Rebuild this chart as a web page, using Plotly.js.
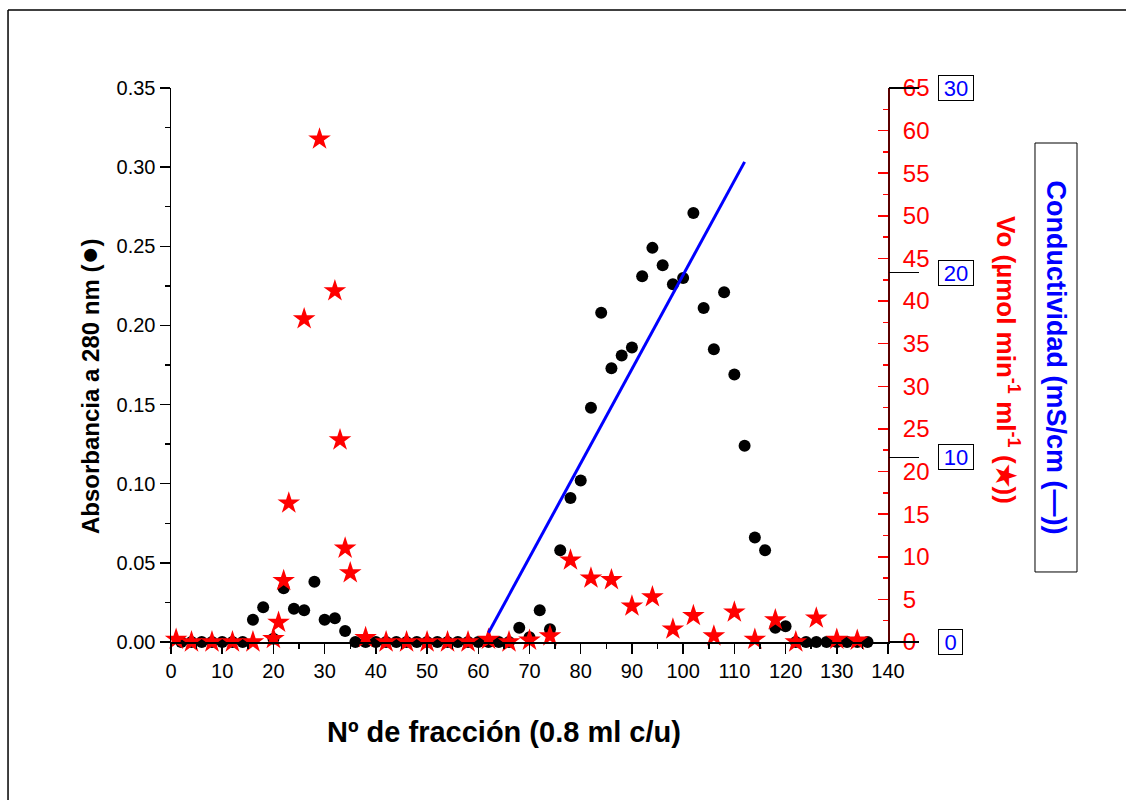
<!DOCTYPE html>
<html>
<head>
<meta charset="utf-8">
<script src="https://cdn.plot.ly/plotly-3.0.1.min.js"></script>
<style>html,body{margin:0;padding:0;background:#fff;}#chart{width:1126px;height:800px;}</style>
</head>
<body>
<div id="chart"></div>
<script>
// Absorbance at 280 nm (black dots)
const fracAbs = [2,4,6,8,10,12,14,16,18,20,22,24,26,28,30,32,34,36,38,40,42,44,46,48,50,52,54,56,58,60,62,64,66,68,70,72,74,76,78,80,82,84,86,88,90,92,94,96,98,100,102,104,106,108,110,112,114,116,118,120,122,124,126,128,130,132,134,136];
const absorbance = [0,0,0,0,0,0,0,0.014,0.022,0.002,0.034,0.021,0.020,0.038,0.014,0.015,0.007,0,0,0,0,0,0,0,0,0,0,0,0,0,0,0,0,0.009,0.003,0.020,0.008,0.058,0.091,0.102,0.148,0.208,0.173,0.181,0.186,0.231,0.249,0.238,0.226,0.230,0.271,0.211,0.185,0.221,0.169,0.124,0.066,0.058,0.009,0.010,0,0,0,0,0,0,0,0];

// Vo activity (red stars)
const fracVo = [1,4,8,12,16,20,21,22,23,26,29,32,33,34,35,38,42,46,50,54,58,62,66,70,74,78,82,86,90,94,98,102,106,110,114,118,122,126,130,134];
const vo = [0.3,0,0,0,0,0.4,2.3,7.2,16.3,37.9,59.0,41.2,23.7,11.0,8.1,0.5,0,0,0,0,0,0.3,0,0.2,0.7,9.6,7.5,7.3,4.2,5.3,1.5,3.1,0.7,3.5,0.3,2.6,0,2.8,0.3,0.2];

// Conductivity gradient (blue line)
const fracCond = [62, 112];
const conductivity = [0.5, 26];

// Tick labels
const absTicks = [0,0.05,0.10,0.15,0.20,0.25,0.30,0.35];
const absTickText = ['0.00','0.05','0.10','0.15','0.20','0.25','0.30','0.35'];
const voTicks = [0,5,10,15,20,25,30,35,40,45,50,55,60,65];
const condTicks = [0,10,20,30];
const condTickText = ['0','10','20','30'];

// Titles
const xTitle = '<b>Nº de fracción (0.8 ml c/u)</b>';
const yTitle = '<b>Absorbancia a 280 nm (<span style="font-size:30px">●</span>)</b>';
const y2Title = '<b>Vo (µmol min<sup>-1</sup> ml<sup>-1</sup> (★))</b>';
const y3Title = '<b>Conductividad (mS/cm (—))</b>';

const FONT = '"Liberation Sans", Arial, Helvetica, sans-serif';

const traces = [
  {x: fracAbs, y: absorbance, type:'scatter', mode:'markers', yaxis:'y',
   marker:{color:'#000', size:12, symbol:'circle'}, cliponaxis:false, hoverinfo:'skip'},
  {x: fracVo, y: vo, type:'scatter', mode:'markers', yaxis:'y2',
   marker:{color:'#ff0000', size:17, symbol:'star', line:{width:0}}, cliponaxis:false, hoverinfo:'skip'},
  {x: fracCond, y: conductivity, type:'scatter', mode:'lines', yaxis:'y3',
   line:{color:'#0000ff', width:3}, cliponaxis:false, hoverinfo:'skip'}
];

const annotations = condTicks.map((v,i)=>({
  xref:'paper', x:1, xanchor:'left', xshift:50,
  yref:'y3', y:v, yanchor:'middle',
  text:condTickText[i], showarrow:false,
  width: 12 + 11*condTickText[i].length, height:24, align:'center', valign:'middle',
  font:{family:FONT, size:22, color:'#0000ff'},
  bordercolor:'#000', borderwidth:1, borderpad:0
}));
annotations.push({
  xref:'paper', x:-0.1158, xanchor:'center', yref:'paper', y:0.462, yanchor:'middle',
  text:yTitle, textangle:-90, showarrow:false,
  font:{family:FONT, size:24, color:'#000'}
});
annotations.push({
  xref:'paper', x:0.4644, xanchor:'center', yref:'paper', y:-0.1625, yanchor:'middle',
  text:xTitle, showarrow:false,
  font:{family:FONT, size:29, color:'#000'}
});
annotations.push({
  xref:'paper', x:1.1674, xanchor:'center', yref:'paper', y:0.509, yanchor:'middle',
  text:y2Title, textangle:90, showarrow:false,
  font:{family:FONT, size:26, color:'#ff0000'}
});
annotations.push({
  xref:'paper', x:1.2343, xanchor:'center', yref:'paper', y:0.5135, yanchor:'middle',
  text:y3Title, textangle:90, showarrow:false,
  font:{family:FONT, size:27, color:'#0000ff'}
});

const layout = {
  width:1126, height:800,
  margin:{l:171, r:238, t:88, b:158, pad:0},
  paper_bgcolor:'#fff', plot_bgcolor:'#fff',
  showlegend:false,
  font:{family:FONT, color:'#000'},
  xaxis:{
    range:[0,140], tickmode:'linear', tick0:0, dtick:10,
    ticks:'outside', ticklen:10, tickwidth:1.5, tickcolor:'#000',
    showline:true, linecolor:'#000', linewidth:1.5,
    showgrid:false, zeroline:false,
    tickfont:{family:FONT, size:20, color:'#000'},
    minor:{tickmode:'linear', dtick:5, ticks:'outside', ticklen:5, tickwidth:1.5, tickcolor:'#000', showgrid:false}
  },
  yaxis:{
    range:[0,0.35], tickmode:'array', tickvals:absTicks, ticktext:absTickText,
    ticks:'outside', ticklen:10, tickwidth:1.5, tickcolor:'#000',
    showline:true, linecolor:'#000', linewidth:1.5,
    showgrid:false, zeroline:false,
    tickfont:{family:FONT, size:20, color:'#000'},
    minor:{tickmode:'linear', tick0:0, dtick:0.025, ticks:'outside', ticklen:5, tickwidth:1.5, tickcolor:'#000', showgrid:false}
  },
  yaxis2:{
    overlaying:'y', side:'right', anchor:'x',
    range:[0,65], tickmode:'array', tickvals:voTicks,
    ticks:'inside', ticklen:10, tickwidth:1.5, tickcolor:'#ff0000',
    showline:true, linecolor:'#5a0000', linewidth:2,
    showgrid:false, zeroline:false,
    tickfont:{family:FONT, size:24, color:'#ff0000'},
    ticklabelstandoff:8,
    minor:{tickmode:'linear', tick0:0, dtick:2.5, ticks:'inside', ticklen:5, tickwidth:1.5, tickcolor:'#ff0000', showgrid:false}
  },
  yaxis3:{
    overlaying:'y', side:'right', anchor:'x',
    range:[0,30], tickmode:'array', tickvals:condTicks,
    ticks:'outside', ticklen:30, tickwidth:1.5, tickcolor:'#000',
    showticklabels:false, showline:false, showgrid:false, zeroline:false
  },
  annotations: annotations,
  shapes:[
    {type:'line', xref:'paper', yref:'paper', x0:-0.2273, x1:-0.2273, y0:-0.3, y1:1.1408, line:{color:'#000', width:1.5}},
    {type:'line', xref:'paper', yref:'paper', x0:-0.2273, x1:1.4, y0:1.1408, y1:1.1408, line:{color:'#000', width:1.5}},
    {type:'rect', xref:'paper', yref:'paper', x0:1.2050, x1:1.2636, y0:0.1264, y1:0.9007, line:{color:'#000', width:1}, fillcolor:'rgba(0,0,0,0)'}
  ]
};

Plotly.newPlot('chart', traces, layout, {displayModeBar:false, staticPlot:true});
</script>
</body>
</html>
